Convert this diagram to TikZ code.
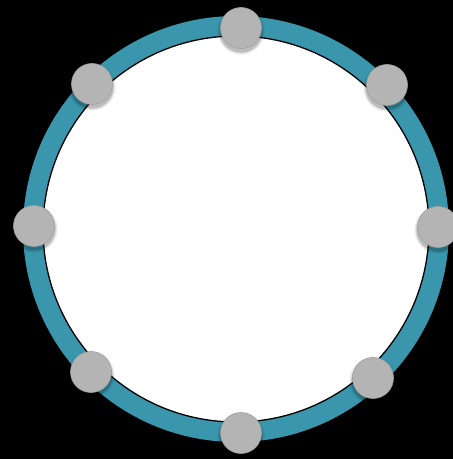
\documentclass[tikz,border=0pt]{standalone}
\usetikzlibrary{calc}
\definecolor{ringteal}{RGB}{58,150,172}
\definecolor{dotgrey}{RGB}{180,180,180}
\definecolor{dotedge}{RGB}{160,160,160}
\tikzset{
  ringline/.style={draw=ringteal, line width=20pt},
  innerdisc/.style={fill=white, draw=black, line width=1.3pt},
  dotnode/.style={circle, fill=dotgrey, draw=dotedge, line width=0.6pt, minimum size=41pt, inner sep=0pt},
}
\newcommand{\dotshadow}[2]{%
  \foreach \r/\o in {24/0.05,23/0.06,22/0.08,21/0.10}{
    \fill[black, opacity=\o] (#1pt,{(459-#2-3)*1pt}) circle (\r pt);
  }%
}
\begin{document}
\begin{tikzpicture}[x=1pt,y=1pt]
\fill[black] (0,0) rectangle (453,459);
\useasboundingbox (0,0) rectangle (453,459);
\coordinate (c) at (236,{459-229});
\draw[ringline] (c) circle (203);
\draw[innerdisc] (c) circle (193);
% shadows
\foreach \x/\y in {241/28, 387/85, 438/227, 373/378, 241/433, 91/372, 34/226, 92/84}{
  \foreach \r/\o in {24/0.04,23/0.06,22/0.08,21.5/0.10}{
    \fill[black, opacity=\o] (\x,{459-\y-3}) circle (\r);
  }
}
\node[dotnode] (d1) at (241,{459-28}) {};
\node[dotnode] (d2) at (387,{459-85}) {};
\node[dotnode] (d3) at (438,{459-227}) {};
\node[dotnode] (d4) at (373,{459-378}) {};
\node[dotnode] (d5) at (241,{459-433}) {};
\node[dotnode] (d6) at (91,{459-372}) {};
\node[dotnode] (d7) at (34,{459-226}) {};
\node[dotnode] (d8) at (92,{459-84}) {};
\end{tikzpicture}
\end{document}
